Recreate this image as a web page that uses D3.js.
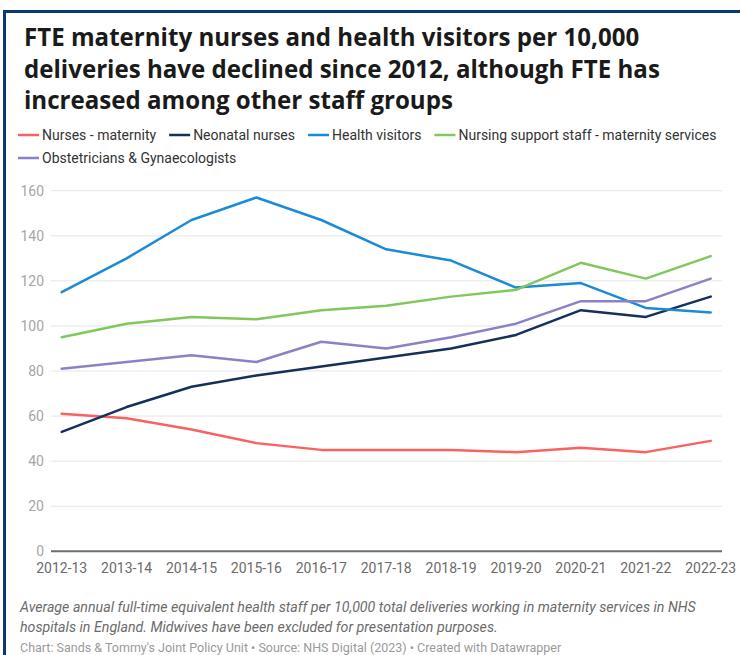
<!DOCTYPE html>
<html>
<head>
<meta charset="utf-8">
<script src="https://cdn.jsdelivr.net/npm/d3@7"></script>
<style>
  html, body { margin: 0; padding: 0; background: #fff; }
  svg { display: block; }
</style>
</head>
<body>
<script>
// Financial years on the x axis
const years = ["2012-13","2013-14","2014-15","2015-16","2016-17","2017-18","2018-19","2019-20","2020-21","2021-22","2022-23"];

// FTE staff per 10,000 deliveries, by staff group
const nursesMaternity = [61, 59, 54, 48, 45, 45, 45, 44, 46, 44, 49];
const neonatalNurses  = [53, 64, 73, 78, 82, 86, 90, 96, 107, 104, 113];
const healthVisitors  = [115, 130, 147, 157, 147, 134, 129, 117, 119, 108, 106];
const supportStaff    = [95, 101, 104, 103, 107, 109, 113, 116, 128, 121, 131];
const obsGynae        = [81, 84, 87, 84, 93, 90, 95, 101, 111, 111, 121];

const seriesNames  = ["Nurses - maternity", "Neonatal nurses", "Health visitors", "Nursing support staff - maternity services", "Obstetricians & Gynaecologists"];
const seriesValues = [nursesMaternity, neonatalNurses, healthVisitors, supportStaff, obsGynae];
const seriesColors = ["#fa6161", "#15305a", "#1b8bd6", "#80c75c", "#8d80c6"];

const yTicks = [0, 20, 40, 60, 80, 100, 120, 140, 160];

const W = 740, H = 655;
const svg = d3.select("body").append("svg").attr("width", W).attr("height", H);

// Frame: navy rule across the top and down the left
svg.append("rect").attr("x", 4).attr("y", 10).attr("width", W - 4).attr("height", 3).attr("fill", "#0d3a6e");
svg.append("rect").attr("x", 3).attr("y", 10).attr("width", 3).attr("height", H - 10).attr("fill", "#0d3a6e");

// Title
const titleLines = [
  "FTE maternity nurses and health visitors per 10,000",
  "deliveries have declined since 2012, although FTE has",
  "increased among other staff groups"
];
svg.append("g").selectAll("text").data(titleLines).join("text")
  .attr("x", 24)
  .attr("y", (d, i) => 46 + i * 31.5)
  .attr("font-family", "'Open Sans', sans-serif")
  .attr("font-weight", 700)
  .attr("font-size", 24.1)
  .attr("fill", "#1a1a1a")
  .text(d => d);

// Legend: two rows, items flow left to right
const legendRows = [[0, 1, 2, 3], [4]];
const legendRowY = [135, 158];
const legend = svg.append("g");
legendRows.forEach((row, r) => {
  let cx = 18;
  row.forEach(i => {
    legend.append("line")
      .attr("x1", cx).attr("x2", cx + 21)
      .attr("y1", legendRowY[r]).attr("y2", legendRowY[r])
      .attr("stroke", seriesColors[i]).attr("stroke-width", 2.5);
    const t = legend.append("text")
      .attr("x", cx + 24).attr("y", legendRowY[r] + 5)
      .attr("font-family", "Roboto, sans-serif")
      .attr("font-size", 14)
      .attr("fill", "#333")
      .text(seriesNames[i]);
    cx += 24 + t.node().getComputedTextLength() + 13;
  });
});

// Plot area
const x = d3.scalePoint().domain(years).range([61.7, 710.7]);
const y = d3.scaleLinear().domain([0, 160]).range([551.3, 190.7]);
const gridLeft = 51, gridRight = 722;

// Gridlines and y labels
const yAxis = svg.append("g");
yAxis.selectAll("line").data(yTicks.filter(t => t > 0)).join("line")
  .attr("x1", gridLeft).attr("x2", gridRight)
  .attr("y1", d => y(d)).attr("y2", d => y(d))
  .attr("stroke", "#e5e5e5").attr("stroke-width", 1);
yAxis.selectAll("text").data(yTicks).join("text")
  .attr("x", 44).attr("y", d => y(d) + 5)
  .attr("text-anchor", "end")
  .attr("font-family", "Roboto, sans-serif")
  .attr("font-size", 14)
  .attr("fill", "#a6a6a6")
  .text(d => d);

// Baseline
svg.append("line")
  .attr("x1", gridLeft).attr("x2", gridRight)
  .attr("y1", y(0)).attr("y2", y(0))
  .attr("stroke", "#6e6e6e").attr("stroke-width", 2);

// X labels
svg.append("g").selectAll("text").data(years).join("text")
  .attr("x", d => x(d)).attr("y", 572.5)
  .attr("text-anchor", "middle")
  .attr("font-family", "Roboto, sans-serif")
  .attr("font-size", 14)
  .attr("fill", "#6b6b6b")
  .text(d => d);

// Lines
const line = d3.line().x((d, i) => x(years[i])).y(d => y(d));
svg.append("g").selectAll("path").data(seriesValues).join("path")
  .attr("d", d => line(d))
  .attr("fill", "none")
  .attr("stroke", (d, i) => seriesColors[i])
  .attr("stroke-width", 2.5)
  .attr("stroke-linejoin", "round")
  .attr("stroke-linecap", "round");

// Notes
const notes = [
  "Average annual full-time equivalent health staff per 10,000 total deliveries working in maternity services in NHS",
  "hospitals in England. Midwives have been excluded for presentation purposes."
];
svg.append("g").selectAll("text").data(notes).join("text")
  .attr("x", 20).attr("y", (d, i) => 611.5 + i * 20)
  .attr("font-family", "Roboto, sans-serif")
  .attr("font-style", "italic")
  .attr("font-size", 14.2)
  .attr("fill", "#6b6b6b")
  .text(d => d);

svg.append("text")
  .attr("x", 20).attr("y", 652)
  .attr("font-family", "Roboto, sans-serif")
  .attr("font-size", 12.5)
  .attr("fill", "#9a9a9a")
  .text("Chart: Sands & Tommy's Joint Policy Unit \u2022 Source: NHS Digital (2023) \u2022 Created with Datawrapper");
</script>
</body>
</html>
